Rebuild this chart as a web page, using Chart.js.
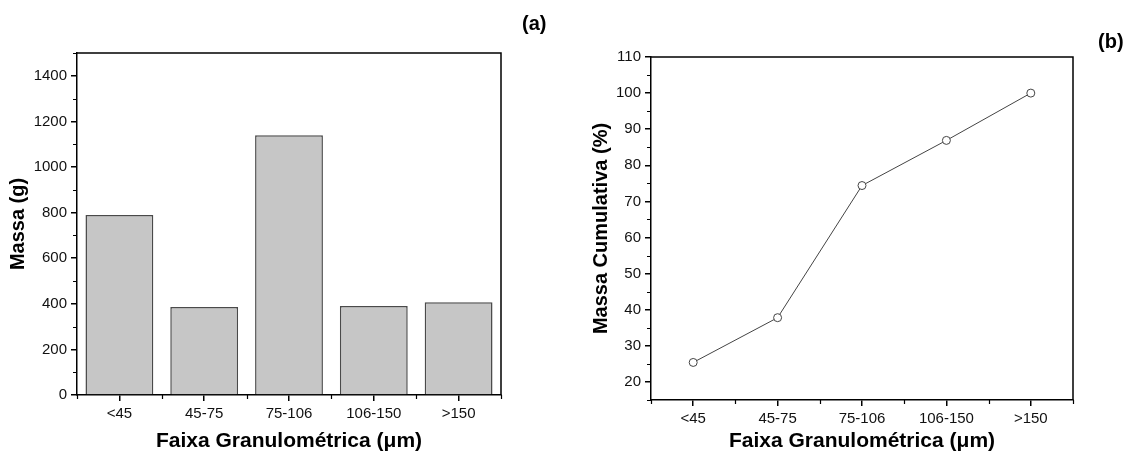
<!DOCTYPE html>
<html><head><meta charset="utf-8">
<script src="https://cdn.jsdelivr.net/npm/chart.js@4/dist/chart.umd.min.js"></script>
<style>
body{margin:0;background:#fff;width:1131px;height:455px;overflow:hidden;position:relative;font-family:"Liberation Sans",Arial,sans-serif;}
.box{position:absolute;top:0;height:455px;}
.lbl{position:absolute;font-weight:bold;font-size:20px;color:#000;line-height:24px;}
</style></head><body>
<div class="box" style="left:0;width:545px"><canvas id="ca" width="545" height="455"></canvas></div>
<div class="box" style="left:560px;width:571px"><canvas id="cb" width="571" height="455"></canvas></div>
<div class="lbl" style="left:522px;top:11px">(a)</div>
<div class="lbl" style="left:1098px;top:29px">(b)</div>
<script>
const categories = ['<45', '45-75', '75-106', '106-150', '>150'];
const massaG = [790, 386, 1139, 390, 407];
const massaCumulativa = [25.4, 37.8, 74.4, 86.9, 100];
const yTicksA = [0, 200, 400, 600, 800, 1000, 1200, 1400];
const yTicksB = [20, 30, 40, 50, 60, 70, 80, 90, 100, 110];
const xTitle = 'Faixa Granulométrica (\u03bcm)';
const yTitleA = 'Massa (g)';
const yTitleB = 'Massa Cumulativa (%)';

function minorsOf(ticks, lo, hi) {
  const step = ticks[1] - ticks[0];
  const out = [];
  for (let v = ticks[0] - step / 2; v <= hi + 1e-9; v += step) if (v >= lo) out.push(v);
  return out;
}

const framePlugin = {
  id: 'frame',
  afterDraw(chart, args, opts) {
    const {ctx, chartArea: a, scales: {x, y}} = chart;
    ctx.save();
    ctx.strokeStyle = '#000';
    ctx.lineWidth = 1.5;
    ctx.beginPath();
    ctx.moveTo(a.left, a.top); ctx.lineTo(a.right, a.top); ctx.lineTo(a.right, a.bottom);
    ctx.stroke();
    ctx.lineWidth = 1.2;
    ctx.beginPath();
    opts.minorY.forEach(v => { const py = Math.round(y.getPixelForValue(v)) + 0.5; ctx.moveTo(a.left - 4, py); ctx.lineTo(a.left, py); });
    for (let i = 0; i <= categories.length; i++) {
      const px = Math.round(x.getPixelForValue(i - 0.5)) + 0.5;
      ctx.moveTo(px, a.bottom); ctx.lineTo(px, a.bottom + 4);
    }
    ctx.stroke();
    ctx.restore();
  }
};

const tickFont = {family: '"Liberation Sans", Arial, sans-serif', size: 15};
const titleFont = {family: '"Liberation Sans", Arial, sans-serif', size: 20, weight: 'bold'};
const xTitleFont = {family: '"Liberation Sans", Arial, sans-serif', size: 21, weight: 'bold'};
const gridOpts = {drawOnChartArea: false, tickLength: 6, color: '#000', lineWidth: 1.5, offset: false};
const borderOpts = {color: '#000', width: 1.5};
const plain = v => String(v);

new Chart(document.getElementById('ca'), {
  type: 'bar',
  data: {labels: categories, datasets: [{data: massaG, backgroundColor: '#c6c6c6', borderColor: '#4a4a4a', borderWidth: 1.5, barPercentage: 0.8, categoryPercentage: 1.0}]},
  options: {
    responsive: false, animation: false, devicePixelRatio: 1,
    layout: {padding: {left: 0, top: 53, right: 44, bottom: 0}},
    plugins: {legend: {display: false}, tooltip: {enabled: false}, frame: {minorY: minorsOf(yTicksA, 0, 1500)}},
    scales: {
      x: {offset: true, grid: gridOpts, border: borderOpts,
          ticks: {font: tickFont, color: '#111', padding: 4, maxRotation: 0},
          title: {display: true, text: xTitle, font: xTitleFont, color: '#000', padding: {top: 0, bottom: 1}},
          afterFit: s => { s.height = 60; }},
      y: {min: 0, max: 1500, grid: gridOpts, border: borderOpts,
          afterBuildTicks: s => { s.ticks = yTicksA.map(v => ({value: v})); },
          ticks: {font: tickFont, color: '#111', padding: 4, callback: plain},
          title: {display: true, text: yTitleA, font: titleFont, color: '#000', padding: {top: 6, bottom: 0}},
          afterFit: s => { s.width = 77; }}
    }
  },
  plugins: [framePlugin]
});

new Chart(document.getElementById('cb'), {
  type: 'line',
  data: {labels: categories, datasets: [{data: massaCumulativa, borderColor: '#444', borderWidth: 1, tension: 0,
    pointRadius: 4, pointBackgroundColor: '#fff', pointBorderColor: '#444', pointBorderWidth: 1, fill: false}]},
  options: {
    responsive: false, animation: false, devicePixelRatio: 1,
    layout: {padding: {left: 0, top: 57, right: 58, bottom: 0}},
    plugins: {legend: {display: false}, tooltip: {enabled: false}, frame: {minorY: minorsOf(yTicksB, 15, 110)}},
    scales: {
      x: {offset: true, grid: gridOpts, border: borderOpts,
          ticks: {font: tickFont, color: '#111', padding: 4, maxRotation: 0},
          title: {display: true, text: xTitle, font: xTitleFont, color: '#000', padding: {top: 0, bottom: 1}},
          afterFit: s => { s.height = 55; }},
      y: {min: 15, max: 110, grid: gridOpts, border: borderOpts,
          afterBuildTicks: s => { s.ticks = yTicksB.map(v => ({value: v})); },
          ticks: {font: tickFont, color: '#111', padding: 4, callback: plain},
          title: {display: true, text: yTitleB, font: titleFont, color: '#000', padding: {top: 29, bottom: 0}},
          afterFit: s => { s.width = 91; }}
    }
  },
  plugins: [framePlugin]
});
</script>
</body></html>
